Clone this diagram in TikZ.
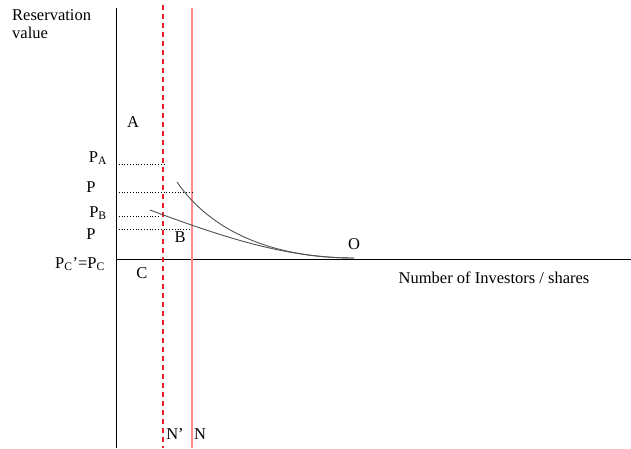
\documentclass[tikz,border=0pt]{standalone}
\usepackage{fontspec}
\setmainfont{Liberation Serif}
\definecolor{lightred}{RGB}{255,140,140}
\definecolor{dashred}{RGB}{235,30,40}
\definecolor{curvegray}{RGB}{80,80,80}
\begin{document}
\begin{tikzpicture}[x=1pt,y=-1pt,
  lbl/.style={font=\fontsize{16.5}{18.5}\selectfont, inner sep=0pt},
  axisline/.style={black, line width=0.8pt},
  guide/.style={black, dotted, line width=0.8pt},
  curve/.style={curvegray, line width=0.9pt}]
\useasboundingbox (0,0) rectangle (631,448);
% axes
\coordinate (ytop) at (116,8);
\coordinate (ybot) at (116,448);
\coordinate (xl) at (116,259);
\coordinate (xr) at (631,259);
\draw[axisline] (ytop) -- (ybot);
\draw[axisline] (xl) -- (xr);
% vertical N lines
\coordinate (nd1) at (163,5);
\coordinate (nd2) at (163,448);
\coordinate (ns1) at (192,8);
\coordinate (ns2) at (192,448);
\draw[draw=dashred, line width=1.3pt, dash pattern=on 5pt off 4pt] (nd1) -- (nd2);
\draw[draw=lightred, line width=1.6pt] (ns1) -- (ns2);
% dotted guides
\coordinate (pa1) at (116,164); \coordinate (pa2) at (165,164);
\coordinate (p11) at (116,192); \coordinate (p12) at (193,192);
\coordinate (pb1) at (116,216); \coordinate (pb2) at (160,216);
\coordinate (p21) at (116,229); \coordinate (p22) at (191,229);
\draw[guide] (pa1) -- (pa2);
\draw[guide] (p11) -- (p12);
\draw[guide] (pb1) -- (pb2);
\draw[guide] (p21) -- (p22);
% curves
\coordinate (cu) at (177,182);
\coordinate (cl) at (150,210);
\coordinate (ce) at (354,258);
\draw[curve] (cu) .. controls (210,230) and (270,258) .. (ce);
\draw[curve] (cl) .. controls (230,240) and (290,258) .. (ce);
% labels
\node[lbl, align=left, anchor=north west] (rv) at (12,9) {Reservation\\value};
\node[lbl] (A) at (133,122) {A};
\node[lbl] (PA) at (98,158) {P\textsubscript{A}};
\node[lbl] (P1) at (91,187) {P};
\node[lbl] (PB) at (98,213) {P\textsubscript{B}};
\node[lbl] (P2) at (91,234) {P};
\node[lbl] (PC) at (80,264) {P\textsubscript{C}’=P\textsubscript{C}};
\node[lbl] (C) at (142,273) {C};
\node[lbl] (B) at (180,237) {B};
\node[lbl] (O) at (354,244) {O};
\node[lbl] (xlab) at (494,278) {Number of Investors / shares};
\node[lbl] (Np) at (175,434) {N’};
\node[lbl] (N) at (200,434) {N};
\end{tikzpicture}
\end{document}
